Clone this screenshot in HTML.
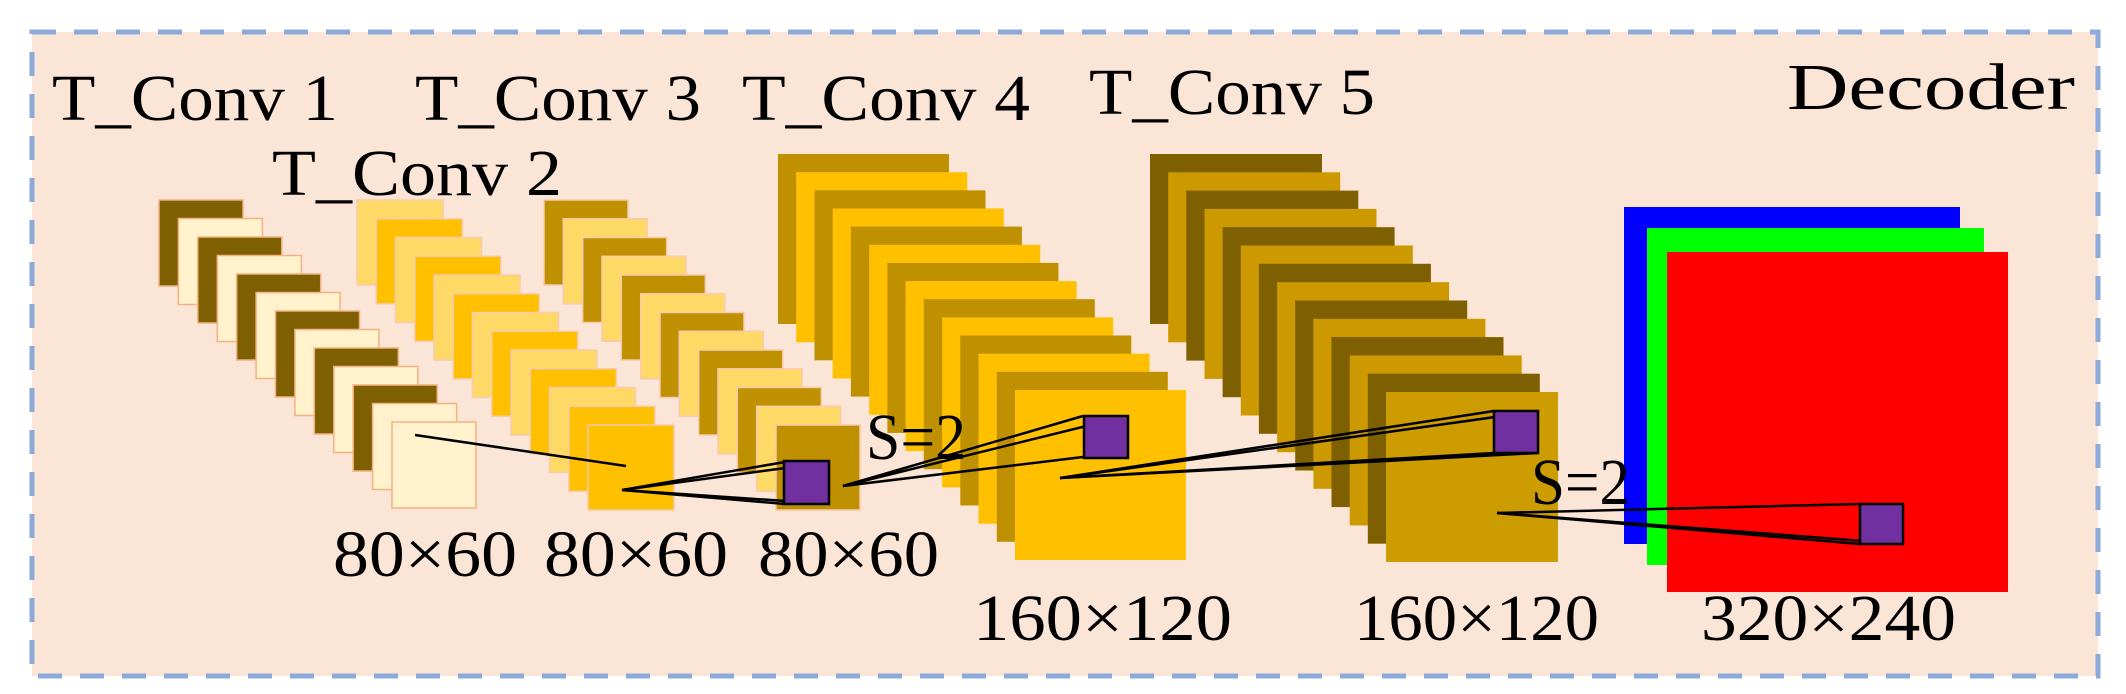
<!DOCTYPE html>
<html><head><meta charset="utf-8"><style>
html,body{margin:0;padding:0;background:#fff;}
svg{display:block}
text{font-family:"Liberation Serif",serif;fill:#000}
</style></head><body>
<svg id="s" width="2126" height="694" viewBox="0 0 2126 694" xmlns="http://www.w3.org/2000/svg">
<rect x="32" y="32" width="2066" height="644" fill="#fbe5d6" stroke="#8eaadb" stroke-width="5" stroke-dasharray="24 18"/>
<g id="stacks"></g>
<rect x="1624" y="207" width="336" height="337" fill="#0000ff"/>
<rect x="1647" y="228" width="337" height="337" fill="#00ff00"/>
<rect x="1667" y="252" width="341" height="340" fill="#ff0000"/>
<g stroke="#000" stroke-width="2.5" fill="none">
<line x1="415" y1="435" x2="626" y2="466"/>
<line x1="622" y1="490" x2="785" y2="462"/>
<line x1="622" y1="490" x2="830" y2="462"/>
<line x1="622" y1="490" x2="785" y2="504"/>
<line x1="622" y1="490" x2="830" y2="504"/>
<line x1="843" y1="486" x2="1083" y2="416"/>
<line x1="843" y1="486" x2="1127" y2="416"/>
<line x1="843" y1="486" x2="1083" y2="457"/>
<line x1="1060" y1="478" x2="1494" y2="411"/>
<line x1="1060" y1="478" x2="1538" y2="411"/>
<line x1="1060" y1="478" x2="1494" y2="453"/>
<line x1="1060" y1="478" x2="1538" y2="453"/>
<line x1="1497" y1="513" x2="1860" y2="504"/>
<line x1="1497" y1="513" x2="1860" y2="544"/>
<line x1="1497" y1="513" x2="1903" y2="544"/>
</g>
<g fill="#7030a0" stroke="#000" stroke-width="2.5">
<rect x="784" y="461" width="45" height="43"/>
<rect x="1084" y="416" width="44" height="42"/>
<rect x="1494" y="411" width="44" height="42"/>
<rect x="1860" y="504" width="43" height="40"/>
</g>
<g font-size="66">
<text x="52" y="120" textLength="286" lengthAdjust="spacingAndGlyphs">T_Conv 1</text>
<text x="272" y="195" textLength="290" lengthAdjust="spacingAndGlyphs">T_Conv 2</text>
<text x="415" y="120" textLength="286" lengthAdjust="spacingAndGlyphs">T_Conv 3</text>
<text x="742" y="120" textLength="288" lengthAdjust="spacingAndGlyphs">T_Conv 4</text>
<text x="1089" y="114" textLength="286" lengthAdjust="spacingAndGlyphs">T_Conv 5</text>
<text x="1787" y="109" textLength="288" lengthAdjust="spacingAndGlyphs">Decoder</text>
<text x="333" y="576" textLength="184" lengthAdjust="spacingAndGlyphs">80×60</text>
<text x="544" y="576" textLength="184" lengthAdjust="spacingAndGlyphs">80×60</text>
<text x="758" y="576" textLength="181" lengthAdjust="spacingAndGlyphs">80×60</text>
<text x="973" y="640" textLength="259" lengthAdjust="spacingAndGlyphs">160×120</text>
<text x="1354" y="640" textLength="245" lengthAdjust="spacingAndGlyphs">160×120</text>
<text x="1701" y="640" textLength="255" lengthAdjust="spacingAndGlyphs">320×240</text>
<text x="866" y="459" textLength="100" lengthAdjust="spacingAndGlyphs">S=2</text>
<text x="1531" y="504" textLength="99" lengthAdjust="spacingAndGlyphs">S=2</text>
</g>
</svg>
<script>
(function(){
var g=document.getElementById('stacks'),NS='http://www.w3.org/2000/svg';
function stack(x0,y0,x1,y1,w,h,n,cols,front,stroke){
 for(var i=0;i<n;i++){
  var t=i/(n-1),x=x0+(x1-x0)*t,y=y0+(y1-y0)*t;
  var r=document.createElementNS(NS,'rect');
  r.setAttribute('x',x.toFixed(1));r.setAttribute('y',y.toFixed(1));
  r.setAttribute('width',w);r.setAttribute('height',h);
  r.setAttribute('fill',i==n-1?front:cols[i%2]);
  if(stroke){r.setAttribute('stroke',stroke);r.setAttribute('stroke-width','1.5');}
  g.appendChild(r);
 }
}
stack(159,200,392,422,84,86,13,['#7f6000','#fff2cc'],'#fff2cc','#f4b183');
stack(357,200,588,425,86,85,13,['#ffd966','#ffc000'],'#ffc000','#f8cbad');
stack(544,200,776,425,84,85,13,['#bf9000','#ffd966'],'#bf9000','#f8cbad');
stack(778,154,1015,390,171,170,14,['#bf9000','#ffc000'],'#ffc000',null);
stack(1150,154,1386,392,172,170,14,['#7f6000','#cc9900'],'#cc9c00',null);
})();
</script>
</body></html>
